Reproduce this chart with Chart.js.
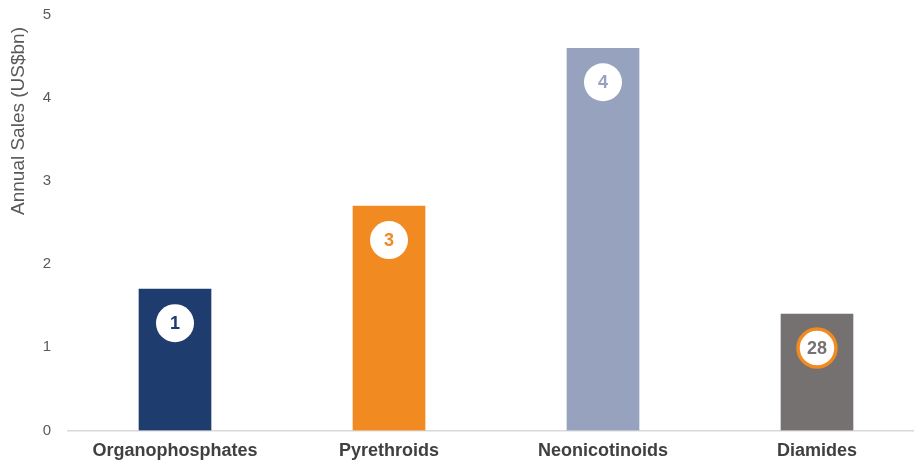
<!DOCTYPE html>
<html>
<head>
<meta charset="utf-8">
<script src="https://cdn.jsdelivr.net/npm/chart.js@4/dist/chart.umd.min.js"></script>
<style>
  html, body { margin: 0; padding: 0; background: #fff; overflow: hidden; }
  #wrap { width: 924px; height: 483px; margin-top: -11px; }
</style>
</head>
<body>
<div id="wrap"><canvas id="salesChart"></canvas></div>
<script>
const categories = ['Organophosphates', 'Pyrethroids', 'Neonicotinoids', 'Diamides'];
const sales = [1.7, 2.7, 4.6, 1.4];
const ranks = ['1', '3', '4', '28'];
const barColours = ['#1f3c6e', '#f18a21', '#97a2be', '#767171'];
const yTicks = [0, 1, 2, 3, 4, 5];
const yTitle = 'Annual Sales (US$bn)';

const FONT = '"Liberation Sans", Arial, sans-serif';

// white badge with the rank, sitting near the top of each bar
const rankBadges = {
    id: 'rankBadges',
    afterDatasetsDraw(chart) {
        const ctx = chart.ctx;
        const meta = chart.getDatasetMeta(0);
        meta.data.forEach(function (bar, i) {
            const cx = bar.x;
            const cy = bar.y + 34;
            ctx.save();
            ctx.beginPath();
            ctx.arc(cx, cy, 19, 0, Math.PI * 2);
            ctx.fillStyle = '#ffffff';
            ctx.fill();
            if (ranks[i] === '28') {
                ctx.lineWidth = 3.5;
                ctx.strokeStyle = '#f18a21';
                ctx.stroke();
            }
            ctx.fillStyle = barColours[i];
            ctx.font = 'bold 18px ' + FONT;
            ctx.textAlign = 'center';
            ctx.textBaseline = 'middle';
            ctx.fillText(ranks[i], cx, cy + 1);
            ctx.restore();
        });
    }
};

// rotated y axis title, hung a little below the top of the axis
const axisTitle = {
    id: 'axisTitle',
    afterDraw(chart) {
        const ctx = chart.ctx;
        const y = chart.scales.y;
        ctx.save();
        ctx.translate(y.left + 19, y.top + 12);
        ctx.rotate(-Math.PI / 2);
        ctx.font = '19px ' + FONT;
        ctx.fillStyle = '#595959';
        ctx.textAlign = 'right';
        ctx.textBaseline = 'middle';
        ctx.fillText(yTitle, 0, 0);
        ctx.restore();
    }
};

new Chart('salesChart', {
    type: 'bar',
    data: {
        labels: categories,
        datasets: [{
            data: sales,
            backgroundColor: barColours,
            barThickness: 72
        }]
    },
    options: {
        responsive: true,
        maintainAspectRatio: false,
        animation: false,
        layout: { padding: 0 },
        plugins: {
            legend: { display: false },
            tooltip: { enabled: false }
        },
        scales: {
            x: {
                grid: { display: false, drawTicks: false },
                border: { color: '#d9d9d9', width: 1.5 },
                ticks: {
                    color: '#404040',
                    padding: 10,
                    font: { family: FONT, size: 18, weight: 'bold' }
                }
            },
            y: {
                min: 0,
                max: 5,
                afterBuildTicks: function (axis) {
                    axis.ticks = yTicks.map(function (v) { return { value: v }; });
                },
                afterFit: function (axis) {
                    axis.width = 68;
                },
                grid: { display: false, drawTicks: false },
                border: { display: false },
                ticks: {
                    color: '#595959',
                    padding: 17,
                    font: { family: FONT, size: 15 }
                }
            }
        }
    },
    plugins: [rankBadges, axisTitle]
});
</script>
</body>
</html>
